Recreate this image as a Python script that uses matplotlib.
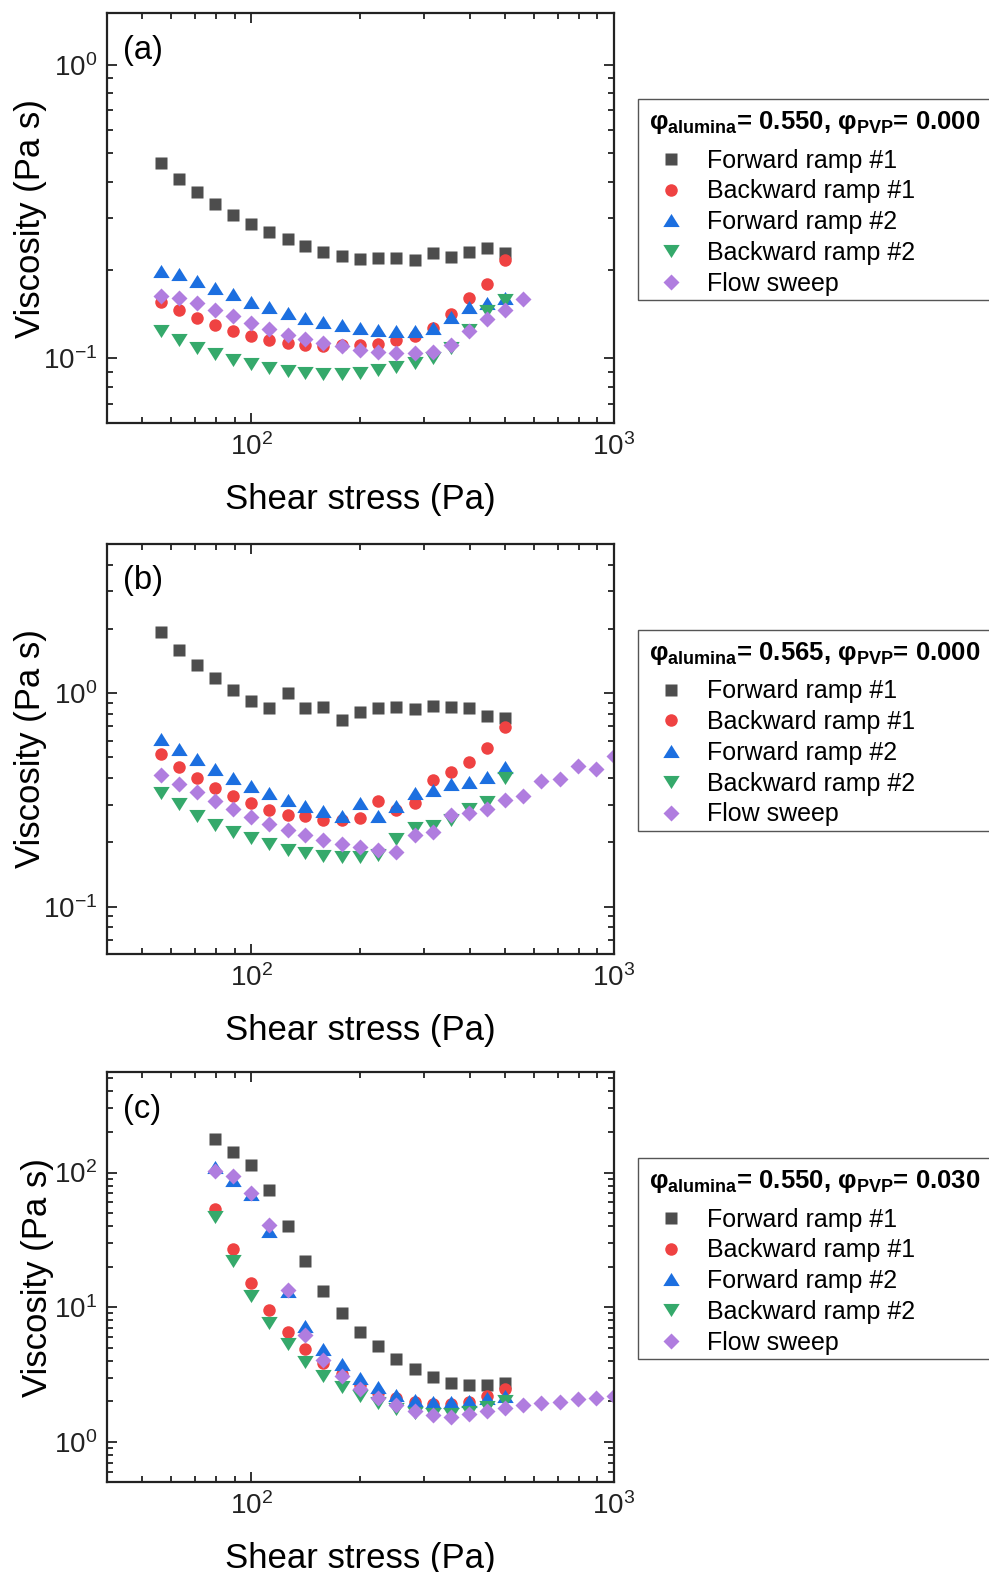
import matplotlib
matplotlib.use("Agg")
import matplotlib.pyplot as plt
from matplotlib.patches import Rectangle
from matplotlib.ticker import LogLocator, NullFormatter

plt.rcParams['font.family'] = ['Liberation Sans', 'DejaVu Sans']
plt.rcParams['mathtext.fontset'] = 'custom'
plt.rcParams['mathtext.rm'] = 'Liberation Sans'
plt.rcParams['mathtext.bf'] = 'Liberation Sans:bold'
plt.rcParams['mathtext.default'] = 'regular'
plt.rcParams['axes.unicode_minus'] = False

# shear stress (Pa)
x_ramp = [56.2, 63.1, 70.8, 79.4, 89.1, 100, 112, 126, 141, 158, 178, 200,
          224, 251, 282, 316, 355, 398, 447, 501]
x_sweep_a = [56.2, 63.1, 70.8, 79.4, 89.1, 100, 112, 126, 141, 158, 178, 200,
             224, 251, 282, 316, 355, 398, 447, 501, 562]
x_sweep_b = [56.2, 63.1, 70.8, 79.4, 89.1, 100, 112, 126, 141, 158, 178, 200,
             224, 251, 282, 316, 355, 398, 447, 501, 562, 631, 708, 794, 891, 1000]
x_ramp_c = [79.4, 89.1, 100, 112, 126, 141, 158, 178, 200, 224, 251, 282,
            316, 355, 398, 447, 501]
x_sweep_c = [79.4, 89.1, 100, 112, 126, 141, 158, 178, 200, 224, 251, 282,
             316, 355, 398, 447, 501, 562, 631, 708, 794, 891, 1000]

# viscosity (Pa s), panel (a)
a_fwd1 = [0.462, 0.407, 0.368, 0.335, 0.308, 0.287, 0.269, 0.255, 0.242, 0.231,
          0.224, 0.218, 0.219, 0.220, 0.216, 0.228, 0.222, 0.230, 0.237, 0.228]
a_bwd1 = [0.156, 0.146, 0.137, 0.130, 0.124, 0.119, 0.115, 0.113, 0.111, 0.110,
          0.111, 0.111, 0.112, 0.115, 0.119, 0.127, 0.141, 0.160, 0.179, 0.216]
a_fwd2 = [0.198, 0.193, 0.183, 0.174, 0.165, 0.156, 0.149, 0.143, 0.137, 0.133,
          0.130, 0.127, 0.125, 0.124, 0.124, 0.127, 0.138, 0.149, 0.154, 0.160]
a_bwd2 = [0.124, 0.115, 0.108, 0.103, 0.0985, 0.0952, 0.0927, 0.0906, 0.0894, 0.0887,
          0.0887, 0.0894, 0.0911, 0.0935, 0.0962, 0.100, 0.108, 0.125, 0.145, 0.158]
a_sweep = [0.163, 0.160, 0.154, 0.146, 0.139, 0.132, 0.126, 0.120, 0.116, 0.113,
           0.110, 0.107, 0.105, 0.1045, 0.1045, 0.105, 0.111, 0.124, 0.136, 0.146, 0.159]

# panel (b)
b_fwd1 = [1.93, 1.60, 1.354, 1.172, 1.033, 0.924, 0.850, 1.00, 0.853, 0.866,
          0.749, 0.820, 0.848, 0.862, 0.841, 0.872, 0.862, 0.848, 0.785, 0.769]
b_bwd1 = [0.520, 0.452, 0.400, 0.360, 0.329, 0.305, 0.285, 0.268, 0.265, 0.255,
          0.256, 0.259, 0.314, 0.284, 0.307, 0.394, 0.428, 0.474, 0.555, 0.694]
b_fwd2 = [0.608, 0.549, 0.493, 0.442, 0.400, 0.369, 0.341, 0.317, 0.297, 0.282,
          0.267, 0.306, 0.267, 0.297, 0.341, 0.351, 0.376, 0.383, 0.407, 0.450]
b_bwd2 = [0.341, 0.301, 0.267, 0.242, 0.224, 0.209, 0.196, 0.185, 0.179, 0.173,
          0.170, 0.170, 0.175, 0.207, 0.234, 0.239, 0.255, 0.288, 0.310, 0.401]
b_sweep = [0.413, 0.376, 0.343, 0.311, 0.286, 0.263, 0.244, 0.229, 0.2165, 0.206,
           0.197, 0.190, 0.185, 0.180, 0.2165, 0.223, 0.270, 0.275, 0.287, 0.315,
           0.331, 0.387, 0.397, 0.458, 0.442, 0.507]

# panel (c)
c_fwd1 = [176.8, 143, 114, 74.5, 40.3, 21.9, 13.2, 8.98, 6.57, 5.14, 4.15, 3.46,
          3.03, 2.72, 2.63, 2.63, 2.71]
c_bwd1 = [53.6, 26.8, 15.0, 9.5, 6.57, 4.92, 3.87, 3.17, 2.63, 2.30, 2.10, 1.98,
          1.90, 1.90, 1.98, 2.19, 2.46]
c_fwd2 = [110, 88.3, 69.5, 36.5, 13.1, 7.23, 4.92, 3.76, 3.00, 2.53, 2.22, 2.05,
          1.96, 1.96, 2.00, 2.13, 2.19]
c_bwd2 = [46.7, 21.9, 12.06, 7.57, 5.29, 3.91, 3.08, 2.53, 2.19, 1.94, 1.75, 1.63,
          1.60, 1.60, 1.67, 1.80, 2.01]
c_sweep = [103, 95, 70.4, 40.5, 13.5, 6.17, 4.05, 3.08, 2.46, 2.10, 1.87, 1.69,
           1.58, 1.52, 1.60, 1.70, 1.78, 1.87, 1.93, 1.99, 2.07, 2.10, 2.19]

labels = ['Forward ramp #1', 'Backward ramp #1', 'Forward ramp #2',
          'Backward ramp #2', 'Flow sweep']
colors = ['#4d4d4d', '#ef4242', '#1c6fe0', '#35a96b', '#b07ddf']
tri_up = [(0, 0.8), (-1, -0.8), (1, -0.8)]
tri_dn = [(0, -0.8), (-1, 0.8), (1, 0.8)]
markers = ['s', 'o', tri_up, tri_dn, 'D']
msizes = [8.6, 9.0, 11.8, 11.8, 8.2]

titles = [r'φ$_{\mathbf{alumina}}$= 0.550, φ$_{\mathbf{PVP}}$= 0.000',
          r'φ$_{\mathbf{alumina}}$= 0.565, φ$_{\mathbf{PVP}}$= 0.000',
          r'φ$_{\mathbf{alumina}}$= 0.550, φ$_{\mathbf{PVP}}$= 0.030']

panels = [
    ('(a)', [x_ramp, x_ramp, x_ramp, x_ramp, x_sweep_a],
     [a_fwd1, a_bwd1, a_fwd2, a_bwd2, a_sweep], (0.06, 1.5)),
    ('(b)', [x_ramp, x_ramp, x_ramp, x_ramp, x_sweep_b],
     [b_fwd1, b_bwd1, b_fwd2, b_bwd2, b_sweep], (0.06, 5)),
    ('(c)', [x_ramp_c, x_ramp_c, x_ramp_c, x_ramp_c, x_sweep_c],
     [c_fwd1, c_bwd1, c_fwd2, c_bwd2, c_sweep], (0.5, 555)),
]

W, H = 989, 1572
fig = plt.figure(figsize=(W / 100, H / 100), dpi=100)
tops = [13.3, 544, 1072.3]
ax_l, ax_w, ax_h = 107, 507, 410
box_l, box_top, box_h = 638, 85.5, 201

for i, (tag, xs, ys, ylim) in enumerate(panels):
    top = tops[i]
    ax = fig.add_axes([ax_l / W, (H - top - ax_h) / H, ax_w / W, ax_h / H])
    handles = []
    for j in range(5):
        h, = ax.plot(xs[j], ys[j], linestyle='none', marker=markers[j],
                     ms=msizes[j], color=colors[j], mec='none', label=labels[j])
        handles.append(h)
    ax.set_xscale('log')
    ax.set_yscale('log')
    ax.set_xlim(40, 1000)
    ax.set_ylim(*ylim)
    ax.xaxis.set_minor_locator(LogLocator(base=10, subs=range(2, 10)))
    ax.yaxis.set_minor_locator(LogLocator(base=10, subs=range(2, 10)))
    ax.xaxis.set_minor_formatter(NullFormatter())
    ax.yaxis.set_minor_formatter(NullFormatter())
    ax.tick_params(which='both', direction='in', top=True, right=True,
                   width=1.3, labelsize=20, colors='#222222')
    ax.tick_params(which='major', length=7, pad=7)
    ax.tick_params(which='minor', length=4)
    for sp in ax.spines.values():
        sp.set_linewidth(1.6)
        sp.set_color('#222222')
    ax.set_xlabel('Shear stress (Pa)', fontsize=25, labelpad=16)
    ax.set_ylabel('Viscosity (Pa s)', fontsize=25)
    ax.yaxis.set_label_coords(-0.118 if i < 2 else -0.104, 0.5)
    ax.text(0.031, 0.91, tag, transform=ax.transAxes, fontsize=23.5,
            ha='left', va='center')

    # legend box (runs past the right edge of the figure)
    ax.add_patch(Rectangle(((box_l - ax_l) / ax_w, 1 - (box_top + box_h) / ax_h),
                           1.2, box_h / ax_h, transform=ax.transAxes,
                           facecolor='white', edgecolor='#555555', lw=1.0,
                           clip_on=False, zorder=4))
    leg = ax.legend(handles=handles, loc='upper left',
                    bbox_to_anchor=((box_l - ax_l) / ax_w, 1 - (box_top + 3) / ax_h,
                                    (1010 - box_l) / ax_w, 0.01),
                    mode='expand', fontsize=18, title=titles[i],
                    title_fontproperties={'size': 18.5, 'weight': 'bold'},
                    alignment='left', frameon=False, borderpad=0.45,
                    handlelength=1.7, handletextpad=0.6, labelspacing=0.27,
                    borderaxespad=0, markerscale=1.0)
    leg.set_zorder(5)
    leg._legend_box.sep = 9.2

fig.savefig('out.png', dpi=100)
